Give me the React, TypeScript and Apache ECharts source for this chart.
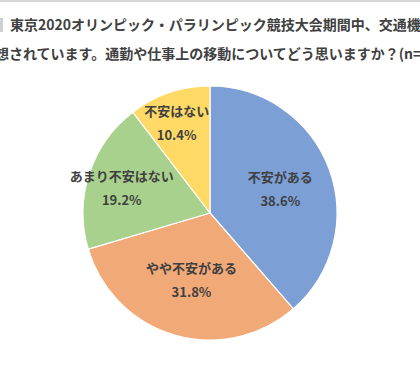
import React, { useEffect, useRef } from "react";
import * as echarts from "echarts";

const categories = ["不安がある", "やや不安がある", "あまり不安はない", "不安はない"];
const values = [38.6, 31.8, 19.2, 10.4];
const colors = ["#7C9FD6", "#F2A978", "#A9D18E", "#FFD966"];
const labelOffsets: [number, number][] = [[8, -1], [0, 3], [-25, -5], [-12, -28]];
const titleLine1 = "東京2020オリンピック・パラリンピック競技大会期間中、交通機関";
const titleLine2 = "想されています。通勤や仕事上の移動についてどう思いますか？(n=";

export default function App() {
  const ref = useRef<HTMLDivElement>(null);
  useEffect(() => {
    if (!ref.current) return;
    const chart = echarts.init(ref.current, undefined, { renderer: "svg" });
    const font = "'Noto Sans CJK JP', 'Noto Sans', sans-serif";
    chart.setOption({
      animation: false,
      backgroundColor: "#ffffff",
      graphic: [
        { type: "rect", shape: { x: 0, y: 0, width: 420, height: 2 }, style: { fill: "#d6d6d6" } },
        { type: "rect", shape: { x: 0, y: 18, width: 3, height: 14 }, style: { fill: "#d0d0d0" } },
        {
          type: "text",
          x: 10,
          y: 24,
          style: {
            text: titleLine1,
            font: `bold 14px ${font}`,
            fill: "#404040",
            textVerticalAlign: "middle",
          },
        },
        {
          type: "text",
          x: -5,
          y: 53,
          style: {
            text: titleLine2,
            font: `bold 14px ${font}`,
            fill: "#404040",
            textVerticalAlign: "middle",
          },
        },
      ],
      series: [
        {
          type: "pie",
          center: [210, 213],
          radius: 127,
          startAngle: 90,
          clockwise: true,
          itemStyle: { borderColor: "#ffffff", borderWidth: 1.2 },
          label: {
            position: "inside",
            color: "#404040",
            fontSize: 13,
            fontWeight: "bold",
            fontFamily: font,
            lineHeight: 24,
            formatter: (p: any) => `${p.name}\n${p.value.toFixed(1)}%`,
          },
          labelLine: { show: false },
          emphasis: { disabled: true },
          data: categories.map((name, i) => ({
            name,
            value: values[i],
            itemStyle: { color: colors[i] },
            label: { offset: labelOffsets[i] },
          })),
        },
      ],
    });
    return () => chart.dispose();
  }, []);
  return (
    <div
      ref={ref}
      style={{ position: "fixed", left: 0, top: 0, width: 420, height: 368 }}
    />
  );
}
